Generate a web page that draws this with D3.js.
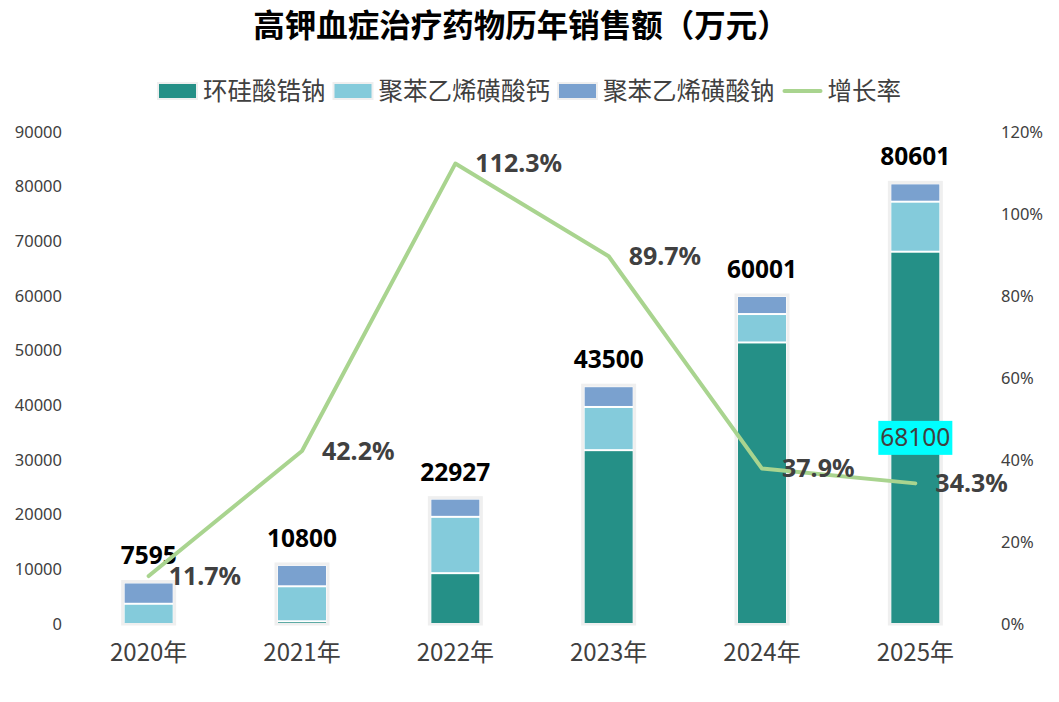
<!DOCTYPE html>
<html>
<head>
<meta charset="utf-8">
<script src="https://cdn.jsdelivr.net/npm/d3@7"></script>
<style>
  body { margin: 0; background: #fff; }
  svg text { font-family: "Noto Sans", "Noto Sans CJK SC", sans-serif; }
</style>
</head>
<body>
<svg id="chart" width="1059" height="702"></svg>
<script>
const years = ["2020年", "2021年", "2022年", "2023年", "2024年", "2025年"];
const seriesNames = ["环硅酸锆钠", "聚苯乙烯磺酸钙", "聚苯乙烯磺酸钠"];
const zsValues = [0, 500, 9300, 31800, 51500, 68100];
const caValues = [3700, 6400, 10300, 7900, 5200, 9150];
const naValues = [3895, 3900, 3327, 3800, 3301, 3351];
const totals = [7595, 10800, 22927, 43500, 60001, 80601];
const growth = [0.117, 0.422, 1.123, 0.897, 0.379, 0.343];
const growthName = "增长率";
const leftTicks = [0, 10000, 20000, 30000, 40000, 50000, 60000, 70000, 80000, 90000];
const rightTicks = [0, 0.2, 0.4, 0.6, 0.8, 1.0, 1.2];
const highlightIndex = 5; // 2025 环硅酸锆钠 segment label

const colors = ["#259087", "#84cbdb", "#7aa1cf"];
const lineColor = "#a9d48f";
const textGray = "#404040";

const svg = d3.select("#chart");
const plot = { left: 72, right: 992, top: 132, bottom: 624 };

const rows = years.map((year, i) => ({
  year,
  [seriesNames[0]]: zsValues[i],
  [seriesNames[1]]: caValues[i],
  [seriesNames[2]]: naValues[i],
  total: totals[i],
  growth: growth[i]
}));

const x = d3.scaleBand().domain(years).range([plot.left, plot.right]).paddingInner(0.674).paddingOuter(0.337);
const y = d3.scaleLinear().domain([0, 90000]).range([plot.bottom, plot.top]);
const yR = d3.scaleLinear().domain([0, 1.2]).range([plot.bottom, plot.top]);
const cx = d => x(d) + x.bandwidth() / 2;

// title
svg.append("text")
  .attr("x", 521).attr("y", 37)
  .attr("text-anchor", "middle")
  .attr("font-size", 31.5).attr("font-weight", "bold").attr("fill", "#000")
  .style("font-family", "'Noto Sans CJK SC', sans-serif")
  .text("高钾血症治疗药物历年销售额（万元）");

// axes
const left = svg.append("g")
  .attr("transform", `translate(${plot.left},0)`)
  .call(d3.axisLeft(y).tickValues(leftTicks).tickSize(0).tickPadding(10).tickFormat(d3.format("d")));
left.select(".domain").remove();
left.selectAll("text").attr("font-size", 16.5).attr("fill", textGray);

const right = svg.append("g")
  .attr("transform", `translate(${plot.right},0)`)
  .call(d3.axisRight(yR).tickValues(rightTicks).tickSize(0).tickPadding(9).tickFormat(d3.format(".0%")));
right.select(".domain").remove();
right.selectAll("text").attr("font-size", 16.5).attr("fill", textGray);

const bottom = svg.append("g")
  .attr("transform", `translate(0,${plot.bottom})`)
  .call(d3.axisBottom(x).tickSize(0).tickPadding(20));
bottom.select(".domain").remove();
bottom.selectAll("text").attr("font-size", 24).attr("fill", textGray)
  .style("font-family", "'Noto Sans CJK SC', sans-serif");

// stacked bars
const stack = d3.stack().keys(seriesNames)(rows);
const stackTop = d => y(d3.sum(seriesNames, k => d[k]));

svg.append("g").selectAll("rect.frame")
  .data(rows)
  .join("rect")
  .attr("class", "frame")
  .attr("x", d => x(d.year) - 1)
  .attr("width", x.bandwidth() + 2)
  .attr("y", d => stackTop(d) - 1)
  .attr("height", d => y(0) - stackTop(d) + 1)
  .attr("fill", "none")
  .attr("stroke", "#efefef")
  .attr("stroke-width", 3);

svg.append("g").selectAll("g")
  .data(stack)
  .join("g")
  .attr("fill", (d, i) => colors[i])
  .selectAll("rect")
  .data(d => d)
  .join("rect")
  .attr("x", d => x(d.data.year) + 1)
  .attr("width", x.bandwidth() - 2)
  .attr("y", d => y(d[1]) + 1)
  .attr("height", d => Math.max(0, y(d[0]) - y(d[1]) - 2));

// total labels
svg.append("g").selectAll("text")
  .data(rows)
  .join("text")
  .attr("x", d => cx(d.year))
  .attr("y", d => y(d.total) - 18)
  .attr("text-anchor", "middle")
  .attr("font-size", 24.5).attr("font-weight", "bold").attr("fill", "#000")
  .text(d => d.total);

// highlighted segment label
const seg = stack[0][highlightIndex];
const segMid = (y(seg[0]) + y(seg[1])) / 2;
const hl = svg.append("g").attr("transform", `translate(${cx(seg.data.year)},${segMid})`);
hl.append("rect")
  .attr("x", -37).attr("y", -17).attr("width", 74).attr("height", 34)
  .attr("fill", "#00ffff");
hl.append("text")
  .attr("text-anchor", "middle").attr("dy", "0.35em")
  .attr("font-size", 24.5).attr("fill", textGray)
  .text(seg.data[seriesNames[0]]);

// growth line
const line = d3.line().x(d => cx(d.year)).y(d => yR(d.growth));
svg.append("path")
  .datum(rows)
  .attr("d", line)
  .attr("fill", "none")
  .attr("stroke", lineColor)
  .attr("stroke-width", 4)
  .attr("stroke-linejoin", "round")
  .attr("stroke-linecap", "round");

svg.append("g").selectAll("text")
  .data(rows)
  .join("text")
  .attr("x", d => cx(d.year) + 20)
  .attr("y", d => yR(d.growth))
  .attr("dy", "0.35em")
  .attr("font-size", 25).attr("font-weight", "bold").attr("fill", textGray)
  .text(d => d3.format(".1%")(d.growth));

// legend
const legendItems = seriesNames.map((name, i) => ({ name, color: colors[i], type: "rect" }))
  .concat([{ name: growthName, color: lineColor, type: "line" }]);
const legend = svg.append("g").attr("transform", "translate(0,91)");
let lx = 158;
legendItems.forEach(item => {
  const g = legend.append("g").attr("transform", `translate(${lx},0)`);
  if (item.type === "rect") {
    g.append("rect").attr("x", 0).attr("y", -8).attr("width", 39).attr("height", 16)
      .attr("fill", item.color).attr("stroke", "#efefef").attr("stroke-width", 2);
  } else {
    g.append("line").attr("x1", 2).attr("x2", 38).attr("y1", 0).attr("y2", 0)
      .attr("stroke", item.color).attr("stroke-width", 4).attr("stroke-linecap", "round");
  }
  const t = g.append("text")
    .attr("x", 45).attr("dy", "0.36em")
    .attr("font-size", 24.5).attr("fill", textGray)
    .style("font-family", "'Noto Sans CJK SC', sans-serif")
    .text(item.name);
  lx += 45 + t.node().getComputedTextLength() + 8;
});
</script>
</body>
</html>
